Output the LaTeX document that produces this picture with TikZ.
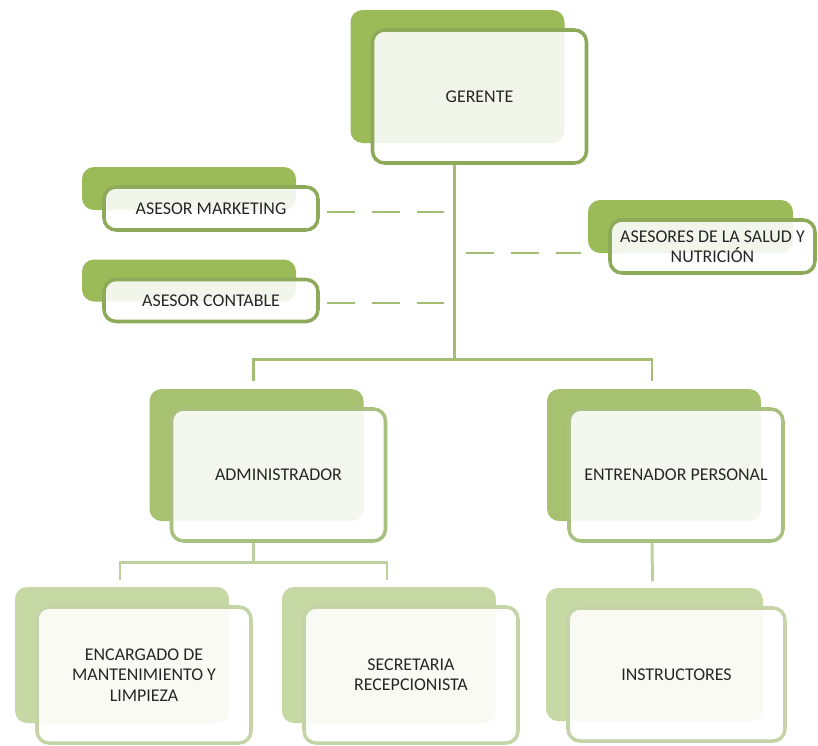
\documentclass[tikz,border=0pt]{standalone}
\usepackage{fontspec}
\usepackage{xcolor}
\usepackage{tikz}
\usetikzlibrary{shadows,calc}
\newfontfamily\orgfont{Carlito}
\definecolor{orgedge}{HTML}{8DAA5A}
\definecolor{orgshade}{HTML}{9BBB59}
\definecolor{midedge}{HTML}{A9C17E}
\definecolor{midshade}{HTML}{A6C270}
\definecolor{lowedge}{HTML}{C4D4A6}
\definecolor{lowshade}{HTML}{C6D8A4}
\definecolor{orgline}{HTML}{A3BE72}
\definecolor{lowline}{HTML}{BED0A0}
\definecolor{orgtext}{HTML}{262626}

\begin{document}
\begin{tikzpicture}[
  box/.style={rectangle, rounded corners=0.24cm, line width=2pt, fill=white, fill opacity=0.88, text opacity=1, align=center, text=orgtext, font=\orgfont\fontsize{10.2pt}{11.6pt}\selectfont, minimum width=4.28cm},
  headbox/.style={box, draw=orgedge, general shadow={fill=orgshade, fill opacity=1, shadow xshift=-0.44cm, shadow yshift=0.4cm}},
  midbox/.style={box, draw=midedge, general shadow={fill=midshade, fill opacity=1, shadow xshift=-0.44cm, shadow yshift=0.4cm}},
  lowbox/.style={box, draw=lowedge, general shadow={fill=lowshade, fill opacity=1, shadow xshift=-0.44cm, shadow yshift=0.4cm}},
  link/.style={line width=1.7pt, orgline},
  lowlink/.style={line width=1.7pt, lowline},
  dashlink/.style={line width=1.1pt, orgline, dash pattern=on 0.56cm off 0.34cm},
]
  \useasboundingbox (0,0) rectangle (16.36,-14.92);

  \node[headbox, minimum height=2.66cm] (ger) at (9.59,-1.93) {GERENTE};
  \node[headbox, minimum height=0.86cm] (mkt) at (4.22,-4.17) {ASESOR MARKETING};
  \node[headbox, minimum height=0.84cm] (cont) at (4.22,-6.01) {ASESOR CONTABLE};
  \node[headbox, minimum height=1.06cm, minimum width=4.1cm] (sal) at (14.25,-4.93) {ASESORES DE LA SALUD Y\\NUTRICIÓN};

  \node[midbox, minimum height=2.64cm] (adm) at (5.57,-9.5) {ADMINISTRADOR};
  \node[midbox, minimum height=2.64cm] (ent) at (13.52,-9.5) {ENTRENADOR PERSONAL};

  \node[lowbox, minimum height=2.72cm] (enc) at (2.88,-13.5) {ENCARGADO DE\\MANTENIMIENTO Y\\LIMPIEZA};
  \node[lowbox, minimum height=2.72cm] (sec) at (8.22,-13.5) {SECRETARIA\\RECEPCIONISTA};
  \node[lowbox, minimum height=2.66cm, minimum width=4.34cm] (ins) at (13.53,-13.49) {INSTRUCTORES};

  \coordinate (trunk) at ([xshift=-0.5cm]ger.south);
  \draw[link] (trunk) -- ++(0,-3.9) coordinate (split);
  \draw[link] ([xshift=-0.5cm,yshift=0.52cm]adm.north) |- (split) -| ([xshift=-0.48cm,yshift=0.52cm]ent.north);

  \draw[dashlink] ([xshift=0.14cm,yshift=-0.07cm]mkt.east) -- ([xshift=-0.22cm,yshift=-0.07cm]mkt.east -| trunk);
  \draw[dashlink] ([xshift=0.14cm,yshift=-0.05cm]cont.east) -- ([xshift=-0.22cm,yshift=-0.05cm]cont.east -| trunk);
  \draw[dashlink] ([xshift=0.22cm,yshift=-0.13cm]sal.west -| trunk) -- ([xshift=-0.54cm,yshift=-0.13cm]sal.west);

  \draw[lowlink] ([xshift=-0.5cm]adm.south) -- ++(0,-0.4) coordinate (admsplit);
  \draw[lowlink] ([xshift=-0.48cm,yshift=0.5cm]enc.north) |- (admsplit) -| ([xshift=-0.48cm,yshift=0.5cm]sec.north);
  \draw[lowlink] ([xshift=-0.48cm]ent.south) -- ([xshift=-0.48cm,yshift=0.5cm]ins.north);
\end{tikzpicture}
\end{document}
